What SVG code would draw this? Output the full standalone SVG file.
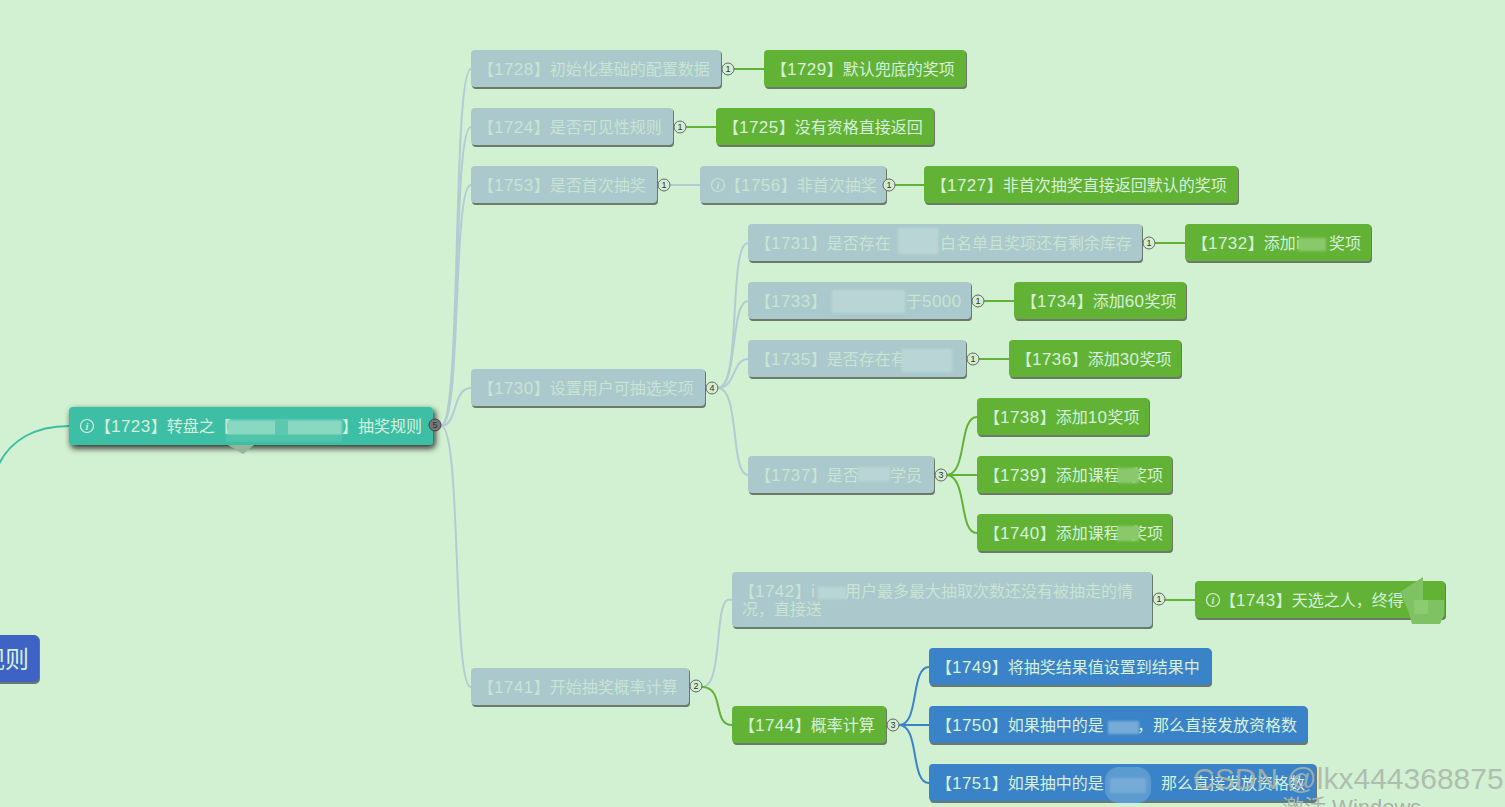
<svg xmlns="http://www.w3.org/2000/svg" width="1505" height="807" viewBox="0 0 1505 807">
<defs>
<style>
text{font-family:"Microsoft YaHei","Noto Sans CJK SC","Liberation Sans",sans-serif;font-size:16px;}
.d{font-family:"Liberation Sans",sans-serif;font-size:17px;letter-spacing:.45px}
.sh{fill:#6b7a68}
.g{fill:#abc8cc}.gt{fill:#c8e4d3}
.v{fill:#62b335}.b{fill:#3b83c9}.t{fill:#3dbfa6}
.lt{fill:#d6f0dc}
.l{fill:none;stroke-width:2}
.lg{stroke:#b3cbd3}.lv{stroke:#62b335}.lb{stroke:#3b83c9}.lteal{stroke:#3dbfa6}
.c{fill:#d2eed2;stroke:#666;stroke-width:1}
.cn{font-family:"Liberation Sans",sans-serif;font-size:9px;fill:#333;text-anchor:middle}
.i{fill:none;stroke-width:1.2}
.it{font-family:"Liberation Serif",serif;font-size:10px;font-style:italic;font-weight:bold;text-anchor:middle}
.wm{font-family:"Liberation Sans",sans-serif;font-size:30px;fill:#a9b5a8;fill-opacity:.85}
.mg{fill:#bad5d5;filter:url(#soft)}
.mv{fill:#8ac86c;filter:url(#soft)}
.mb{fill:#74abd6;filter:url(#soft)}
</style>
<filter id="glow" x="-10%" y="-50%" width="120%" height="200%"><feDropShadow dx="2" dy="3" stdDeviation="3" flood-color="#111" flood-opacity=".9"/></filter>
<filter id="soft" x="-20%" y="-20%" width="140%" height="140%"><feGaussianBlur stdDeviation="1.2"/></filter>
</defs>
<rect width="1505" height="807" fill="#d2f0d2"/>
<g id="connectors">
<path class="l lteal" d="M-2 466C10 440 35 426 69 426"/>
<path class="l lg" d="M441 426C462 426 452 69 471 69"/>
<path class="l lg" d="M441 426C462 426 452 127 471 127"/>
<path class="l lg" d="M441 426C462 426 452 185 471 185"/>
<path class="l lg" d="M441 426C458 426 452 388 471 388"/>
<path class="l lg" d="M441 426C462 426 452 687 471 687"/>
<path class="l lg" d="M670 185H700"/>
<path class="l lg" d="M718 388C742 388 728 243 748 243"/>
<path class="l lg" d="M718 388C738 388 730 301 748 301"/>
<path class="l lg" d="M718 388C736 388 732 359 748 359"/>
<path class="l lg" d="M718 388C740 388 730 475 748 475"/>
<path class="l lg" d="M702 687C725 687 712 591 732 600"/>
<path class="l lv" d="M734 69H764"/>
<path class="l lv" d="M686 127H716"/>
<path class="l lv" d="M893 185H924"/>
<path class="l lv" d="M1155 243H1185"/>
<path class="l lv" d="M984 301H1014"/>
<path class="l lv" d="M979 359H1009"/>
<path class="l lv" d="M946 475C968 475 958 417 977 417"/>
<path class="l lv" d="M946 475H977"/>
<path class="l lv" d="M946 475C968 475 958 533 977 533"/>
<path class="l lv" d="M1164 600H1195"/>
<path class="l lv" d="M702 687C725 687 712 725 732 725"/>
<path class="l lb" d="M899 725C920 725 910 667 929 667"/>
<path class="l lb" d="M899 725H929"/>
<path class="l lb" d="M899 725C920 725 910 783 929 783"/>
</g>
<g id="n-root"><rect x="-20" y="636" width="60" height="48" rx="5" fill="#6a7a6a"/><rect x="-20" y="635" width="59" height="47" rx="5" fill="#3f63c4"/><text x="-19" y="668" class="lt" style="font-size:24px">规则</text></g>
<g id="n1723"><rect x="69" y="407" width="364" height="38" rx="4" class="t" filter="url(#glow)"/>
<path d="M228 445H254L243 454Z" fill="#95b49c"/>
<circle cx="87" cy="426" r="6.5" class="i" stroke="#d6f0dc"/><text x="87" y="430" class="it" fill="#d6f0dc">i</text>
<text x="95" y="432" class="lt">【<tspan class="d">1723</tspan>】转盘之【</text><text x="342" y="432" class="lt">】抽奖规则</text>
<rect x="227" y="420" width="115" height="15" fill="#8ad7c2" filter="url(#soft)"/><rect x="275" y="420" width="13" height="15" fill="#5cc8b0"/><rect x="226" y="435" width="116" height="7" fill="#4ec4ab"/>
<circle cx="435" cy="425" r="6" class="c" style="fill:#777;stroke:#444"/><text x="435" y="428" class="cn">5</text></g>
<g id="n1728"><rect x="472" y="51" width="250" height="38" rx="4" class="sh"/><rect x="471" y="50" width="250" height="37" rx="4" class="g"/><text x="478" y="75" class="gt">【<tspan class="d">1728</tspan>】初始化基础的配置数据</text><circle cx="728" cy="69" r="6" class="c"/><text x="728" y="72" class="cn">1</text></g>
<g id="n1729"><rect x="765" y="51" width="202" height="38" rx="4" class="sh"/><rect x="764" y="50" width="202" height="37" rx="4" class="v"/><text x="771" y="75" class="lt">【<tspan class="d">1729</tspan>】默认兜底的奖项</text></g>
<g id="n1724"><rect x="472" y="109" width="202" height="38" rx="4" class="sh"/><rect x="471" y="108" width="202" height="37" rx="4" class="g"/><text x="478" y="133" class="gt">【<tspan class="d">1724</tspan>】是否可见性规则</text><circle cx="680" cy="127" r="6" class="c"/><text x="680" y="130" class="cn">1</text></g>
<g id="n1725"><rect x="717" y="109" width="218" height="38" rx="4" class="sh"/><rect x="716" y="108" width="218" height="37" rx="4" class="v"/><text x="723" y="133" class="lt">【<tspan class="d">1725</tspan>】没有资格直接返回</text></g>
<g id="n1753"><rect x="472" y="167" width="186" height="38" rx="4" class="sh"/><rect x="471" y="166" width="186" height="37" rx="4" class="g"/><text x="478" y="191" class="gt">【<tspan class="d">1753</tspan>】是否首次抽奖</text><circle cx="664" cy="185" r="6" class="c"/><text x="664" y="188" class="cn">1</text></g>
<g id="n1756"><rect x="701" y="167" width="186" height="38" rx="4" class="sh"/><rect x="700" y="166" width="186" height="37" rx="4" class="g"/><circle cx="718" cy="185" r="6.5" class="i" stroke="#c8e4d3"/><text x="718" y="189" class="it" fill="#c8e4d3">i</text><text x="725" y="191" class="gt">【<tspan class="d">1756</tspan>】非首次抽奖</text><circle cx="889" cy="185" r="6" class="c"/><text x="889" y="188" class="cn">1</text></g>
<g id="n1727"><rect x="925" y="167" width="314" height="38" rx="4" class="sh"/><rect x="924" y="166" width="314" height="37" rx="4" class="v"/><text x="931" y="191" class="lt">【<tspan class="d">1727</tspan>】非首次抽奖直接返回默认的奖项</text></g>
<g id="n1731"><rect x="749" y="225" width="394" height="38" rx="4" class="sh"/><rect x="748" y="224" width="394" height="37" rx="4" class="g"/><text x="755" y="249" class="gt">【<tspan class="d">1731</tspan>】是否存在</text><text x="940" y="249" class="gt">白名单且奖项还有剩余库存</text><rect x="898" y="228" width="40" height="26" class="mg"/><circle cx="1149" cy="243" r="6" class="c"/><text x="1149" y="246" class="cn">1</text></g>
<g id="n1732"><rect x="1186" y="225" width="186" height="38" rx="4" class="sh"/><rect x="1185" y="224" width="186" height="37" rx="4" class="v"/><text x="1192" y="249" class="lt">【<tspan class="d">1732</tspan>】添加i</text><text x="1329" y="249" class="lt">奖项</text><rect x="1298" y="238" width="28" height="13" class="mv"/></g>
<g id="n1733"><rect x="749" y="283" width="223" height="38" rx="4" class="sh"/><rect x="748" y="282" width="223" height="37" rx="4" class="g"/><text x="755" y="307" class="gt">【<tspan class="d">1733</tspan>】</text><text x="906" y="307" class="gt">于<tspan class="d">5000</tspan></text><rect x="832" y="290" width="73" height="23" class="mg"/><circle cx="978" cy="301" r="6" class="c"/><text x="978" y="304" class="cn">1</text></g>
<g id="n1734"><rect x="1015" y="283" width="172" height="38" rx="4" class="sh"/><rect x="1014" y="282" width="172" height="37" rx="4" class="v"/><text x="1021" y="307" class="lt">【<tspan class="d">1734</tspan>】添加<tspan class="d">60</tspan>奖项</text></g>
<g id="n1735"><rect x="749" y="341" width="218" height="38" rx="4" class="sh"/><rect x="748" y="340" width="218" height="37" rx="4" class="g"/><text x="755" y="365" class="gt">【<tspan class="d">1735</tspan>】是否存在有</text><rect x="902" y="349" width="50" height="23" class="mg"/><circle cx="973" cy="359" r="6" class="c"/><text x="973" y="362" class="cn">1</text></g>
<g id="n1736"><rect x="1010" y="341" width="172" height="38" rx="4" class="sh"/><rect x="1009" y="340" width="172" height="37" rx="4" class="v"/><text x="1016" y="365" class="lt">【<tspan class="d">1736</tspan>】添加<tspan class="d">30</tspan>奖项</text></g>
<g id="n1730"><rect x="472" y="370" width="234" height="38" rx="4" class="sh"/><rect x="471" y="369" width="234" height="37" rx="4" class="g"/><text x="478" y="394" class="gt">【<tspan class="d">1730</tspan>】设置用户可抽选奖项</text><circle cx="712" cy="388" r="6" class="c"/><text x="712" y="391" class="cn">4</text></g>
<g id="n1737"><rect x="749" y="457" width="186" height="38" rx="4" class="sh"/><rect x="748" y="456" width="186" height="37" rx="4" class="g"/><text x="755" y="481" class="gt">【<tspan class="d">1737</tspan>】是否</text><text x="890" y="481" class="gt">学员</text><rect x="858" y="467" width="32" height="14" class="mg"/><circle cx="941" cy="475" r="6" class="c"/><text x="941" y="478" class="cn">3</text></g>
<g id="n1738"><rect x="978" y="399" width="172" height="38" rx="4" class="sh"/><rect x="977" y="398" width="172" height="37" rx="4" class="v"/><text x="984" y="423" class="lt">【<tspan class="d">1738</tspan>】添加<tspan class="d">10</tspan>奖项</text></g>
<g id="n1739"><rect x="978" y="457" width="195" height="38" rx="4" class="sh"/><rect x="977" y="456" width="195" height="37" rx="4" class="v"/><text x="984" y="481" class="lt">【<tspan class="d">1739</tspan>】添加课程</text><text x="1131" y="481" class="lt">奖项</text><rect x="1117" y="468" width="22" height="15" class="mv"/></g>
<g id="n1740"><rect x="978" y="515" width="195" height="38" rx="4" class="sh"/><rect x="977" y="514" width="195" height="37" rx="4" class="v"/><text x="984" y="539" class="lt">【<tspan class="d">1740</tspan>】添加课程</text><text x="1131" y="539" class="lt">奖项</text><rect x="1117" y="526" width="22" height="15" class="mv"/></g>
<g id="n1742"><rect x="733" y="573" width="420" height="56" rx="4" class="sh"/><rect x="732" y="572" width="420" height="55" rx="4" class="g"/><text x="739" y="597" class="gt">【<tspan class="d">1742</tspan>】i</text><text x="845" y="597" class="gt">用户最多最大抽取次数还没有被抽走的情</text><text x="742" y="615" class="gt">况，直接送</text><rect x="818" y="587" width="28" height="12" class="mg"/><circle cx="1159" cy="599" r="6" class="c"/><text x="1159" y="602" class="cn">1</text></g>
<g id="n1743"><rect x="1196" y="582" width="250" height="38" rx="4" class="sh"/><rect x="1195" y="581" width="250" height="37" rx="4" class="v"/><circle cx="1213" cy="600" r="6.5" class="i" stroke="#d6f0dc"/><text x="1213" y="604" class="it" fill="#d6f0dc">i</text><text x="1220" y="606" class="lt">【<tspan class="d">1743</tspan>】天选之人，终得</text><path d="M1400 592L1423 577V600H1444V615L1440 624H1412L1408 610Z" fill="#7fc263"/><rect x="1414" y="600" width="14" height="14" fill="#8ccc70"/></g>
<g id="n1741"><rect x="472" y="669" width="218" height="38" rx="4" class="sh"/><rect x="471" y="668" width="218" height="37" rx="4" class="g"/><text x="478" y="693" class="gt">【<tspan class="d">1741</tspan>】开始抽奖概率计算</text><circle cx="696" cy="686" r="6" class="c"/><text x="696" y="689" class="cn">2</text></g>
<g id="n1744"><rect x="733" y="707" width="154" height="38" rx="4" class="sh"/><rect x="732" y="706" width="154" height="37" rx="4" class="v"/><text x="739" y="731" class="lt">【<tspan class="d">1744</tspan>】概率计算</text><circle cx="893" cy="725" r="6" class="c"/><text x="893" y="728" class="cn">3</text></g>
<g id="n1749"><rect x="930" y="649" width="282" height="38" rx="4" class="sh"/><rect x="929" y="648" width="282" height="37" rx="4" class="b"/><text x="936" y="673" class="lt">【<tspan class="d">1749</tspan>】将抽奖结果值设置到结果中</text></g>
<g id="n1750"><rect x="930" y="707" width="378" height="38" rx="4" class="sh"/><rect x="929" y="706" width="378" height="37" rx="4" class="b"/><text x="936" y="731" class="lt">【<tspan class="d">1750</tspan>】如果抽中的是</text><text x="1137" y="731" class="lt">，那么直接发放资格数</text><rect x="1108" y="721" width="31" height="13" class="mb"/></g>
<g id="n1751"><rect x="930" y="765" width="387" height="38" rx="4" class="sh"/><rect x="929" y="764" width="387" height="37" rx="4" class="b"/><text x="936" y="789" class="lt">【<tspan class="d">1751</tspan>】如果抽中的是</text><text x="1161" y="789" class="lt">那么直接发放资格数</text><rect x="1105" y="767" width="46" height="36" rx="14" fill="#5b9bd0"/><rect x="1110" y="778" width="36" height="15" class="mb"/></g>
<text x="1193" y="789" class="wm">CSDN @lkx444368875</text>
<text x="1282" y="815" style="font-family:'Liberation Sans','Noto Sans CJK SC',sans-serif;font-size:22px;fill:#a9b5a8">激活 Windows</text>
</svg>
